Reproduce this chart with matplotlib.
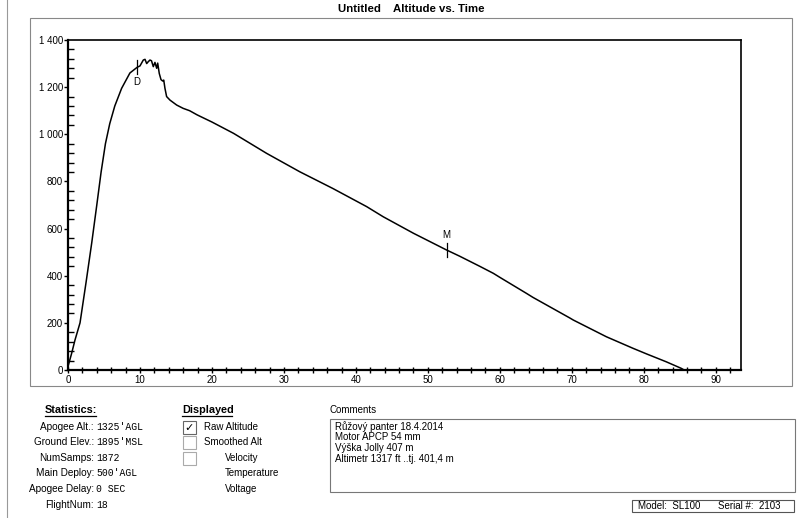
"""Altimeter flight report: altitude vs. time"""

import matplotlib
matplotlib.use("Agg")
import matplotlib.pyplot as plt
from matplotlib.patches import Rectangle
from matplotlib.lines import Line2D
from matplotlib.ticker import MultipleLocator, FuncFormatter

W, H = 800, 518

# flight trace (seconds, feet AGL)
time_s = [0.0, 0.5, 0.97, 1.67, 2.5, 3.3, 4.0, 4.6, 5.2, 5.8, 6.5, 7.45, 8.6, 9.6,
          10.0, 10.46, 10.7, 10.93, 11.15, 11.39, 11.6, 11.85, 12.08, 12.32,
          12.46, 12.68, 12.92, 13.15, 13.3, 13.47, 13.7, 14.17, 15.1, 16.0,
          16.9, 17.9, 18.3, 20.0, 23.0, 27.6, 32.2, 36.8, 41.5, 43.8, 48.0,
          52.6, 54.4, 57.2, 59.1, 60.0, 63.7, 64.6, 69.7, 70.2, 74.8, 78.5,
          80.4, 83.1, 85.2, 85.6]
altitude_ft = [15, 70, 127, 200, 370, 540, 700, 840, 960, 1045, 1120, 1195, 1260, 1284,
               1290, 1315, 1318, 1300, 1308, 1315, 1312, 1287, 1305, 1280,
               1302, 1258, 1232, 1226, 1230, 1195, 1160, 1145, 1124, 1110,
               1100, 1083, 1077, 1052, 1004, 919, 841, 770, 693, 650, 580,
               509, 483, 440, 410, 393, 325, 308, 221, 212, 141, 92,
               68, 35, 7, 0]

# event markers: drogue and main deploy
events = ["D", "M"]
event_time = [9.6, 52.6]
event_alt = [1284, 509]
event_label_side = [-1, 1]

stat_labels = ["Apogee Alt.:", "Ground Elev.:", "NumSamps:", "Main Deploy:",
               "Apogee Delay:", "FlightNum:"]
stat_values = ["1325'AGL", "1895'MSL", "1872", "500'AGL", "0 SEC", "18"]

displayed = ["Raw Altitude", "Smoothed Alt", "Velocity", "Temperature", "Voltage"]
displayed_checked = [True, False, False, None, None]

comments = ["Růžový panter 18.4.2014", "Motor APCP 54 mm", "Výška Jolly 407 m",
            "Altimetr 1317 ft ..tj. 401,4 m"]

plt.rcParams['font.family'] = ['Liberation Sans', 'DejaVu Sans']


def fx(px):
    return px / W


def fy(py):
    return 1 - py / H


def frame(x0, y0, x1, y1, color="#888888", lw=0.8):
    fig.add_artist(Rectangle((fx(x0), fy(y1)), fx(x1) - fx(x0), fy(y0) - fy(y1),
                             transform=fig.transFigure, fill=False,
                             edgecolor=color, linewidth=lw))


fig = plt.figure(figsize=(W / 100, H / 100), dpi=100)
fig.patch.set_facecolor("white")

# page borders
fig.add_artist(Line2D([fx(7), fx(7)], [0, 1], transform=fig.transFigure,
                      color="#999999", linewidth=0.8))
frame(30, 18, 792, 386)

fig.text(fx(411), fy(9), "Untitled    Altitude vs. Time", ha="center", va="center",
         fontsize=8.2, fontweight="bold")

ax = fig.add_axes([fx(68), fy(370), fx(741) - fx(68), fy(40) - fy(370)])
ax.plot(time_s, altitude_ft, color="black", linewidth=1.1, solid_joinstyle="round")

for name, t, a, side in zip(events, event_time, event_alt, event_label_side):
    ax.plot([t, t], [a - 30, a + 30], color="black", linewidth=0.9)
    ax.text(t, a + side * 62, name, ha="center", va="center", fontsize=7)

ax.set_xlim(0, 93.5)
ax.set_ylim(0, 1400)
ax.xaxis.set_major_locator(MultipleLocator(10))
ax.xaxis.set_minor_locator(MultipleLocator(2))
ax.yaxis.set_major_locator(MultipleLocator(200))
ax.yaxis.set_minor_locator(MultipleLocator(40))
ax.yaxis.set_major_formatter(FuncFormatter(lambda v, p: f"{int(v):,}".replace(",", " ")))

ax.tick_params(axis="x", which="major", direction="inout", length=5, width=1,
               labelsize=7, pad=1)
ax.tick_params(axis="x", which="minor", direction="inout", length=4, width=1)
ax.tick_params(axis="y", which="major", direction="out", length=3, width=1,
               labelsize=7, pad=0.5)
ax.tick_params(axis="y", which="minor", direction="in", length=4, width=1)
for side in ["left", "bottom"]:
    ax.spines[side].set_linewidth(1.6)
for side in ["top", "right"]:
    ax.spines[side].set_linewidth(1.2)

# statistics block
fig.text(fx(70.5), fy(410), "Statistics:", ha="center", va="center", fontsize=7.8,
         fontweight="bold")
fig.add_artist(Line2D([fx(45), fx(96)], [fy(416), fy(416)], transform=fig.transFigure,
                      color="black", linewidth=0.9))
rows_y = [427, 442, 458, 473, 489, 505]
for lab, val, yy in zip(stat_labels, stat_values, rows_y):
    fig.text(fx(94), fy(yy), lab, ha="right", va="center", fontsize=7.2)
    fig.text(fx(96), fy(yy), val, ha="left", va="center", fontsize=7,
             family="Liberation Mono")

# displayed block
fig.text(fx(182), fy(410), "Displayed", ha="left", va="center", fontsize=7.8,
         fontweight="bold")
fig.add_artist(Line2D([fx(182), fx(232)], [fy(416), fy(416)], transform=fig.transFigure,
                      color="black", linewidth=0.9))
for i, (lab, chk) in enumerate(zip(displayed, displayed_checked)):
    yy = rows_y[i]
    if chk is not None:
        frame(183, yy - 6, 196, yy + 7, color="#666666" if chk else "#aaaaaa", lw=0.8)
        if chk:
            fig.text(fx(189.5), fy(yy + 0.5), "✓", ha="center", va="center",
                     fontsize=8, fontweight="bold", family="DejaVu Sans")
    xl = 204 if i < 2 else 225
    fig.text(fx(xl), fy(yy), lab, ha="left", va="center", fontsize=7)

# comments block
fig.text(fx(330), fy(410), "Comments", ha="left", va="center", fontsize=7)
frame(330, 419, 795, 492, color="#777777")
for i, line in enumerate(comments):
    fig.text(fx(335), fy(427 + i * 10.5), line, ha="left", va="center", fontsize=7)

frame(632, 500, 794, 512, color="#555555")
fig.text(fx(638), fy(506), "Model:  SL100", ha="left", va="center", fontsize=7)
fig.text(fx(718), fy(506), "Serial #:  2103", ha="left", va="center", fontsize=7)

fig.savefig("out.png", dpi=100)
plt.close(fig)
